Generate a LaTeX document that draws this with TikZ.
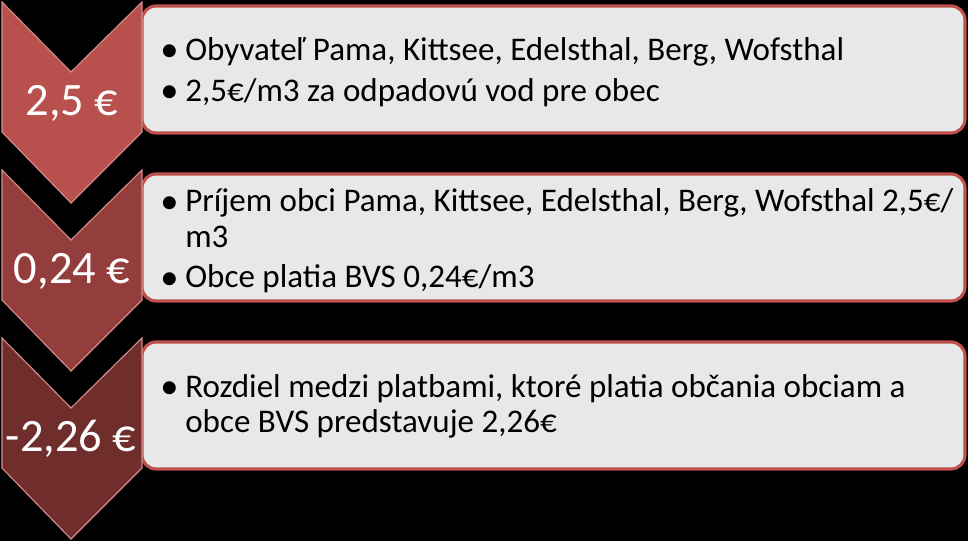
\documentclass[tikz,border=0pt]{standalone}
\usepackage{fontspec}
\setmainfont{Carlito}
\usepackage{tikz}

\definecolor{chevA}{RGB}{184,80,77}
\definecolor{chevB}{RGB}{147,62,60}
\definecolor{chevC}{RGB}{111,45,44}
\definecolor{chevline}{RGB}{214,140,138}
\definecolor{boxfill}{RGB}{232,232,232}
\definecolor{boxline}{RGB}{192,80,77}

\newcommand{\bul}{\makebox[17.8pt][l]{\raisebox{-1pt}{\fontsize{26}{26}\selectfont •}}}
\newcommand{\ind}{\hspace*{17.8pt}}

\begin{document}
\begin{tikzpicture}[x=0.025cm, y=-0.025cm,
    chev/.style={draw=chevline, line width=0.8pt},
    infobox/.style={fill=boxfill, draw=boxline, line width=2.2pt, rounded corners=10pt},
    price/.style={text=white, font=\fontsize{33}{36}\selectfont, inner sep=0pt},
    items/.style={anchor=west, align=left, inner sep=0pt,
        font=\fontsize{23.5}{24.9}\selectfont}]
    % Background
    \fill[black] (0,0) rectangle (968,541);
    \useasboundingbox (0,0) rectangle (968,541);

    % Draw the boxes on the right
    \draw[infobox] (142,6) rectangle (965,133);
    \draw[infobox] (142,174) rectangle (965,301);
    \draw[infobox] (142,342) rectangle (965,469);

    % Draw the chevrons on the left
    \draw[chev, fill=chevA] (2,2) -- (71,72) -- (142,2) -- (142,132) -- (71,203) -- (2,132) -- cycle;
    \draw[chev, fill=chevB] (2,170) -- (71,240) -- (142,170) -- (142,300) -- (71,371) -- (2,300) -- cycle;
    \draw[chev, fill=chevC] (2,338) -- (71,408) -- (142,338) -- (142,468) -- (71,539) -- (2,468) -- cycle;

    % Amounts
    \node[price] (p1) at (72,103) {2,5 €};
    \node[price] (p2) at (72,271) {0,24 €};
    \node[price] (p3) at (71,439) {-2,26 €};

    % Text in the boxes
    \node[items] (t1) at (160,72) {\bul Obyvateľ Pama, Kittsee, Edelsthal, Berg, Wofsthal\\[4pt]
        \bul 2,5€/m3 za odpadovú vod pre obec};
    \node[items] (t2) at (160,241) {\bul Príjem obci Pama, Kittsee, Edelsthal, Berg, Wofsthal 2,5€/\\
        \ind m3\\[4pt]
        \bul Obce platia BVS 0,24€/m3};
    \node[items] (t3) at (160,406) {\bul Rozdiel medzi platbami, ktoré platia občania obciam a\\
        \ind obce BVS predstavuje 2,26€};
\end{tikzpicture}
\end{document}
